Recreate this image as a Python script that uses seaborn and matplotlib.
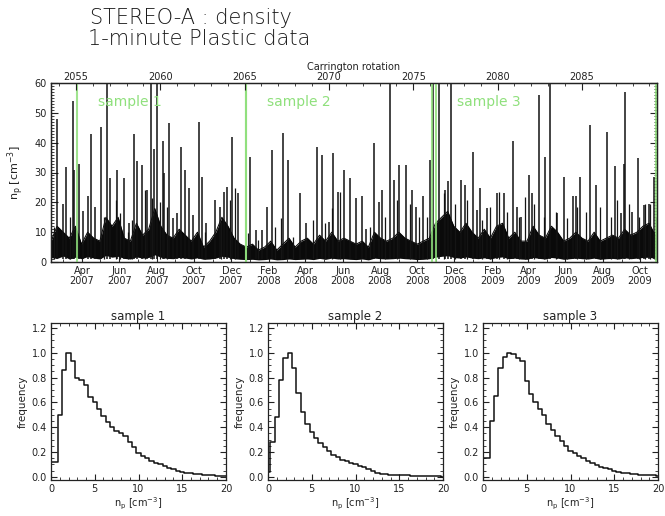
import numpy as np
import pandas as pd
import matplotlib
matplotlib.use("Agg")
import matplotlib.pyplot as plt
import matplotlib.dates as mdates
from matplotlib.ticker import MultipleLocator, FormatStrFormatter
import seaborn as sns

# ---------------- data ----------------
# isolated density spikes (decimal year, peak n_p in cm^-3)
spike_time = [2007.135, 2007.160, 2007.174, 2007.204, 2007.210, 2007.231, 2007.249, 2007.274, 2007.288, 2007.305,
              2007.330, 2007.357, 2007.372, 2007.402, 2007.435, 2007.458, 2007.481, 2007.492, 2007.514, 2007.537,
              2007.555, 2007.569, 2007.583, 2007.608, 2007.616, 2007.635, 2007.656, 2007.671, 2007.690, 2007.708,
              2007.728, 2007.746, 2007.771, 2007.783, 2007.803, 2007.843, 2007.866, 2007.883, 2007.896, 2007.918,
              2007.945, 2008.000, 2008.027, 2008.053, 2008.075, 2008.098, 2008.150, 2008.172, 2008.225, 2008.251,
              2008.300, 2008.322, 2008.352, 2008.374, 2008.396, 2008.422, 2008.446, 2008.476, 2008.501, 2008.521,
              2008.554, 2008.576, 2008.591, 2008.625, 2008.646, 2008.669, 2008.699, 2008.726, 2008.745, 2008.773,
              2008.808, 2008.818, 2008.845, 2008.875, 2008.887, 2008.901, 2008.947, 2008.965, 2009.000, 2009.018,
              2009.032, 2009.062, 2009.107, 2009.137, 2009.179, 2009.197, 2009.215, 2009.252, 2009.264, 2009.294,
              2009.321, 2009.346, 2009.377, 2009.406, 2009.448, 2009.462, 2009.481, 2009.522, 2009.552, 2009.601,
              2009.634, 2009.661, 2009.676, 2009.683, 2009.713, 2009.738, 2009.765, 2009.788, 2009.810]
spike_peak = [48, 19.6, 32, 54, 31, 33, 17, 22, 43, 18.5,
              45.4, 75, 28, 31, 28, 13, 43, 34, 32.5, 24,
              75, 38, 75, 40.4, 29.7, 46.5, 14.6, 16.3, 38.7, 30.8,
              24.7, 15.7, 47, 28.6, 13, 20.7, 18.5, 23.5, 25, 42,
              23, 35.3, 10.6, 10.6, 18.5, 37.6, 43.4, 34.2, 23, 13,
              38.4, 36, 13.5, 36.4, 23.5, 30.8, 28, 21.3, 22, 11.2,
              40, 20, 24, 75, 27.5, 32.5, 32.5, 24, 18.5, 22,
              34.2, 75, 75, 24, 27, 75, 27.5, 25.8, 37, 17.4,
              24.7, 18, 23, 23, 40.4, 18.5, 15, 29, 23, 56,
              35.3, 75, 16.3, 28.6, 22, 22, 28.6, 46, 25.8, 43.7,
              32.2, 16.3, 32.8, 57, 16.8, 34.8, 19, 19.6, 28.6]

# smaller density enhancements (decimal year, peak n_p)
minor_time = [2007.122, 2007.192, 2007.346, 2007.397, 2007.417, 2007.454, 2007.472, 2007.529, 2007.559, 2007.596,
              2007.626, 2007.798, 2007.870, 2007.910, 2007.933, 2007.993, 2008.037, 2008.112, 2008.139, 2008.194,
              2008.284, 2008.337, 2008.367, 2008.404, 2008.539, 2008.606, 2008.659, 2008.718, 2008.755, 2008.793,
              2008.868, 2008.920, 2008.973, 2009.040, 2009.077, 2009.115, 2009.152, 2009.204, 2009.234, 2009.272,
              2009.316, 2009.369, 2009.422, 2009.466, 2009.504, 2009.571, 2009.616, 2009.646, 2009.698, 2009.743,
              2009.773, 2009.795, 2009.818]
minor_peak = [11.8, 15.2, 15.2, 20.8, 16.3, 10.2, 14, 24, 21.3, 20.2,
              18.5, 10.2, 13.5, 20.8, 24.7, 9.6, 7.4, 11.8, 14.6, 8.5,
              14, 13, 18, 23.6, 11.8, 15, 20.7, 19.6, 15, 15,
              23, 19.6, 20.7, 14, 18.5, 23.5, 16.8, 15, 21.9, 19.6,
              15, 16.8, 14.6, 18.5, 16.8, 18.5, 15, 20.7, 19.6, 15,
              19.6, 19.6, 15]

# dense background band, one value per 10 days from 2007-02-09
band_start = "2007-02-09"
band_step_days = 10
band_top = [7, 12, 10, 8, 12, 6, 10, 8, 7, 15, 12, 15, 8, 7, 13, 9, 11, 18, 12, 9,
            8, 11, 9, 7, 10, 5, 7, 10, 15, 12, 8, 6, 5, 6, 4, 5, 7, 4, 6, 8,
            5, 7, 8, 6, 9, 7, 10, 7, 8, 7, 6, 7, 5, 10, 8, 7, 8, 10, 8, 7,
            6, 7, 8, 13, 15, 17, 12, 10, 13, 10, 8, 11, 8, 12, 13, 8, 10, 7, 7, 12,
            9, 8, 12, 10, 7, 8, 10, 8, 7, 10, 7, 8, 9, 8, 11, 9, 10, 12, 13, 9]
band_low = [1.5, 1.2, 2.0, 1.0, 1.6, 1.1, 1.8, 1.3, 1.0, 2.2, 1.6, 1.9, 1.2, 1.0, 1.7, 1.3, 1.5, 2.4, 1.6, 1.2,
            1.1, 1.5, 1.3, 1.0, 1.4, 0.9, 1.0, 1.3, 1.9, 1.6, 1.1, 0.9, 0.8, 0.9, 0.7, 0.8, 1.0, 0.7, 0.8, 1.0,
            0.8, 0.9, 1.0, 0.8, 1.2, 0.9, 1.3, 1.0, 1.1, 0.9, 0.8, 1.0, 0.7, 1.3, 1.1, 1.0, 1.1, 1.3, 1.1, 1.0,
            0.8, 0.9, 1.1, 1.6, 1.9, 2.1, 1.5, 1.3, 1.7, 1.3, 1.1, 1.4, 1.0, 1.5, 1.7, 1.1, 1.3, 1.0, 0.9, 1.5,
            1.2, 1.0, 1.5, 1.3, 0.9, 1.1, 1.3, 1.1, 1.0, 1.3, 0.9, 1.1, 1.2, 1.0, 1.4, 1.1, 1.3, 1.5, 1.6, 1.2]

sample_names = ["sample 1", "sample 2", "sample 3"]
sample_start = ["2007-03-24", "2007-12-26", "2008-11-01"]
sample_end = ["2007-12-26", "2008-10-26", "2009-10-27"]

time_range = ["2007-02-09", "2009-10-29"]
cr_range = [2053.52, 2089.45]
cr_ticks = [2055, 2060, 2065, 2070, 2075, 2080, 2085]

# normalised histograms, bin centres every 0.5 cm^-3
hist_centers = [0.0, 0.5, 1.0, 1.5, 2.0, 2.5, 3.0, 3.5, 4.0, 4.5, 5.0, 5.5, 6.0, 6.5, 7.0, 7.5, 8.0, 8.5, 9.0, 9.5,
                10.0, 10.5, 11.0, 11.5, 12.0, 12.5, 13.0, 13.5, 14.0, 14.5, 15.0, 15.5, 16.0, 16.5, 17.0, 17.5,
                18.0, 18.5, 19.0, 19.5, 20.0]
freq_s1 = [0.12, 0.12, 0.50, 0.86, 1.00, 0.93, 0.80, 0.78, 0.74, 0.64, 0.60, 0.55, 0.49, 0.44, 0.40, 0.37, 0.35,
           0.33, 0.28, 0.24, 0.19, 0.17, 0.15, 0.13, 0.11, 0.10, 0.085, 0.07, 0.06, 0.05, 0.04, 0.035, 0.03,
           0.025, 0.02, 0.018, 0.015, 0.012, 0.01, 0.008, 0.006]
freq_s2 = [0.04, 0.28, 0.48, 0.78, 0.96, 1.00, 0.88, 0.68, 0.52, 0.43, 0.36, 0.31, 0.27, 0.24, 0.21, 0.18, 0.16,
           0.14, 0.125, 0.115, 0.10, 0.09, 0.08, 0.065, 0.05, 0.035, 0.025, 0.02, 0.018, 0.016, 0.015, 0.013,
           0.012, 0.011, 0.01, 0.009, 0.008, 0.006, 0.005, 0.004, 0.003]
freq_s3 = [0.15, 0.15, 0.45, 0.65, 0.88, 0.97, 1.00, 0.99, 0.96, 0.93, 0.77, 0.67, 0.60, 0.55, 0.50, 0.43, 0.38,
           0.33, 0.29, 0.25, 0.21, 0.19, 0.17, 0.15, 0.13, 0.11, 0.095, 0.08, 0.07, 0.06, 0.05, 0.04, 0.035,
           0.03, 0.025, 0.02, 0.018, 0.015, 0.012, 0.012, 0.01]
hist_freqs = [freq_s1, freq_s2, freq_s3]

# ---------------- style ----------------
sns.set_style("ticks")
plt.rcParams["font.family"] = ["DejaVu Sans"]
INK = "#222222"
GREEN = "#8fe07c"
plt.rcParams.update({
    "axes.edgecolor": INK, "axes.linewidth": 0.9,
    "xtick.color": INK, "ytick.color": INK,
    "text.color": INK, "axes.labelcolor": INK,
    "xtick.direction": "in", "ytick.direction": "in",
})


def dec2dt(y):
    yr = int(np.floor(y))
    a = pd.Timestamp(yr, 1, 1)
    b = pd.Timestamp(yr + 1, 1, 1)
    return a + (b - a) * (y - yr)


fig = plt.figure(figsize=(6.65, 5.16), dpi=100)
W, H = 665.0, 516.0


def box(x0, y0, x1, y1):
    return [x0 / W, 1 - y1 / H, (x1 - x0) / W, (y1 - y0) / H]


# ---------------- top panel ----------------
ax = fig.add_axes(box(51, 83, 657, 262))
band_dates = pd.date_range(band_start, periods=len(band_top), freq=f"{band_step_days}D")
ax.fill_between(band_dates, band_low, band_top, color="#0a0a0a", lw=0)
sns.lineplot(x=band_dates, y=band_top, color="black", lw=0.7, ax=ax)
ax.vlines([dec2dt(t) for t in minor_time], 1.0, minor_peak, color="#151515", lw=0.9)
ax.vlines([dec2dt(t) for t in spike_time], 1.0, spike_peak, color="#111111", lw=1.1)

for name, s, e in zip(sample_names, sample_start, sample_end):
    for d in (s, e):
        ax.axvline(pd.Timestamp(d), color=GREEN, lw=1.5, alpha=0.85, zorder=3)
    ax.text(pd.Timestamp(s) + pd.Timedelta(days=34), 53.5, name, color=GREEN,
            fontsize=10, va="center", ha="left", zorder=4)

ax.set_xlim(pd.Timestamp(time_range[0]), pd.Timestamp(time_range[1]))
ax.set_ylim(0, 60)
ax.yaxis.set_major_locator(MultipleLocator(10))
ax.yaxis.set_minor_locator(MultipleLocator(1))
ax.xaxis.set_major_locator(mdates.MonthLocator(bymonth=[2, 4, 6, 8, 10, 12]))
ax.xaxis.set_minor_locator(mdates.MonthLocator())
ax.xaxis.set_major_formatter(mdates.DateFormatter("%b\n%Y"))
ax.tick_params(axis="both", which="major", length=5, width=0.8, labelsize=7, right=True, top=False, pad=3)
ax.tick_params(axis="both", which="minor", length=2.5, width=0.6, right=True, top=False)
ax.set_xlabel("")
ax.set_ylabel(r"n$_\mathrm{p}$ [cm$^{-3}$]", fontsize=8, labelpad=6)
for lab in ax.get_xticklabels():
    lab.set_linespacing(1.0)

ax2 = ax.twiny()
ax2.set_xlim(*cr_range)
ax2.set_xticks(cr_ticks)
ax2.xaxis.set_minor_locator(MultipleLocator(1))
ax2.tick_params(axis="x", which="major", length=5, width=0.8, labelsize=7, pad=1, direction="in")
ax2.tick_params(axis="x", which="minor", length=2.5, width=0.6, direction="in")
ax2.set_xlabel("Carrington rotation", fontsize=7, labelpad=1)

# ---------------- histograms ----------------
edges = [c - 0.25 for c in hist_centers] + [hist_centers[-1] + 0.25]
lefts = [51, 268, 483]
for i, (name, freq) in enumerate(zip(sample_names, hist_freqs)):
    axh = fig.add_axes(box(lefts[i], 323, lefts[i] + 175, 480))
    sns.histplot(x=hist_centers, weights=freq, bins=edges, element="step", fill=False,
                 color="#111111", linewidth=1.1, ax=axh)
    axh.set_xlim(0, 20)
    axh.set_ylim(-0.025, 1.24)
    axh.xaxis.set_major_locator(MultipleLocator(5))
    axh.xaxis.set_minor_locator(MultipleLocator(1))
    axh.yaxis.set_major_locator(MultipleLocator(0.2))
    axh.yaxis.set_minor_locator(MultipleLocator(0.05))
    axh.yaxis.set_major_formatter(FormatStrFormatter("%.1f"))
    axh.tick_params(which="major", length=4, width=0.8, labelsize=7, top=True, right=True, pad=3)
    axh.tick_params(which="minor", length=2, width=0.6, top=True, right=True)
    axh.set_title(name, fontsize=8.5, pad=2)
    axh.set_xlabel(r"n$_\mathrm{p}$ [cm$^{-3}$]", fontsize=7, labelpad=1)
    axh.set_ylabel("frequency", fontsize=7.5, labelpad=3)

# ---------------- titles ----------------
fig.text(90 / W, 1 - 24 / H, "STEREO-A : density", fontsize=15, ha="left", va="baseline",
         color="#1a1a1a", fontweight="light")
fig.text(88 / W, 1 - 45 / H, "1-minute Plastic data", fontsize=15, ha="left", va="baseline",
         color="#1a1a1a", fontweight="light")

fig.savefig("out.png", dpi=100)
